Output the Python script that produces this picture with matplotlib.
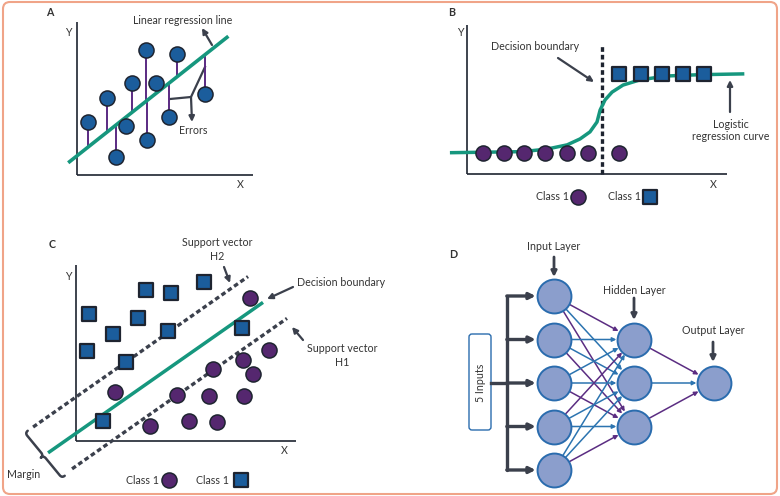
import numpy as np
import matplotlib
matplotlib.use('Agg')
import matplotlib.pyplot as plt
from matplotlib.patches import FancyBboxPatch, PathPatch
from matplotlib.path import Path

plt.rcParams['font.family'] = ['Lato', 'DejaVu Sans']

# --- A: linear regression (units along the axes) ---
a_x = [0.6, 1.7, 2.2, 2.8, 3.1, 3.9, 4.0, 4.5, 5.2, 5.7, 7.3]
a_y = [3.0, 4.4, 1.0, 2.8, 5.2, 7.1, 2.0, 5.2, 3.3, 6.9, 4.6]
a_slope = 0.79
a_icpt = 1.09
a_line_x = [-0.5, 8.6]

# --- B: logistic regression ---
b_circ_x = [0.62, 1.42, 2.19, 3.0, 3.85, 4.65, 5.85]
b_circ_y = 0.81
b_sq_x = [5.85, 6.69, 7.5, 8.31, 9.12]
b_sq_y = 3.85
b_bound = 5.19
b_curve_x = [-0.59, 2.15, 3.08, 3.85, 4.35, 4.73, 5.0, 5.12, 5.31, 5.58, 6.0, 6.65, 7.69, 8.96, 10.6]
b_curve_y = [0.82, 0.86, 0.96, 1.12, 1.35, 1.62, 2.0, 2.46, 2.85, 3.15, 3.42, 3.62, 3.77, 3.82, 3.85]

# --- C: support vector machine ---
c_sq_x = [0.59, 3.18, 4.32, 5.82, 2.82, 1.68, 4.18, 0.5, 2.27, 7.55, 1.23]
c_sq_y = [5.77, 6.86, 6.73, 7.23, 5.59, 4.86, 5.0, 4.09, 3.59, 5.14, 0.91]
c_circ_x = [7.91, 8.77, 7.59, 6.23, 8.05, 1.77, 4.59, 6.05, 7.64, 3.36, 5.14, 6.41]
c_circ_y = [6.5, 4.14, 3.68, 3.27, 3.05, 2.23, 2.09, 2.05, 2.05, 0.68, 0.91, 0.86]
c_slope = 0.7
c_icpt = {'H2': 2.0, 'boundary': 0.35, 'H1': -1.14}
c_span = {'H2': [-1.95, 7.82], 'boundary': [-1.27, 8.5], 'H1': [-0.18, 9.59]}

# --- D: neural network ---
layer_x = [0, 1, 2]
input_y = [4, 3, 2, 1, 0]
hidden_y = [3, 2, 1]
output_y = [2]
# edge colours: 'p' purple, 'b' blue, rows = input nodes, cols = hidden nodes
in_hid_col = [['p', 'b', 'p'],
              ['b', 'b', 'p'],
              ['b', 'b', 'p'],
              ['p', 'b', 'b'],
              ['b', 'b', 'p']]
hid_out_col = ['p', 'b', 'p']

W, H = 780, 496
green = '#16977e'
blue = '#1b5d9c'
purple = '#55276f'
dark = '#1e2430'
arrowc = '#3b404c'
txtc = '#333333'
node_fill = '#8b9ecc'
node_edge = '#2a6cae'
edge_c = {'p': '#5b2d82', 'b': '#2c74b0'}
fs = 7.7
circ_s = 118
sq_s = 88

fig = plt.figure(figsize=(W / 100, H / 100), dpi=100)
bg = fig.add_axes([0, 0, 1, 1])
bg.set_xlim(0, W)
bg.set_ylim(H, 0)
bg.axis('off')

bg.add_patch(FancyBboxPatch((3, 2), 774, 492, boxstyle='round,pad=0,rounding_size=7',
                            fc='white', ec='#f0a488', lw=1.5, zorder=0))


def panel(box, origin, sx, sy):
    left, top, right, bottom = box
    ax = fig.add_axes([left / W, 1 - bottom / H, (right - left) / W, (bottom - top) / H])
    ox, oy = origin
    ax.set_xlim((left - ox) / sx, (right - ox) / sx)
    ax.set_ylim((oy - bottom) / sy, (oy - top) / sy)
    ax.axis('off')
    ax.set_facecolor('none')
    return ax


def txt(x, y, s, **kw):
    kw.setdefault('ha', 'center')
    bg.text(x, y, s, va='center', color=txtc, fontsize=fs, zorder=10, **kw)


def arrow(x0, y0, x1, y1, lw=1.6, ms=8):
    bg.annotate('', xy=(x1, y1), xytext=(x0, y0),
                arrowprops=dict(arrowstyle='-|>', color=arrowc, lw=lw,
                                mutation_scale=ms, shrinkA=0, shrinkB=0), zorder=10)


def xy_axes(ax, xmax, ymax):
    ax.plot([0, xmax], [0, 0], color=dark, lw=1.2, solid_capstyle='butt')
    ax.plot([0, 0], [0, ymax], color=dark, lw=1.2, solid_capstyle='butt')


for lab, x, y in [('A', 50, 13), ('B', 452, 13), ('C', 52, 245), ('D', 453, 254)]:
    txt(x, y, lab, fontweight='bold')
for lab, x, y in [('Y', 68, 32), ('X', 240, 184), ('Y', 460, 32), ('X', 713, 184),
                  ('Y', 68, 277), ('X', 284, 451)]:
    txt(x, y, lab)

# ---------------- A ----------------
axA = panel((0, 0, 390, 248), (77, 175), 17.6, 17.6)
xy_axes(axA, 10, 8.7)
ax_arr = np.array(a_x)
axA.vlines(ax_arr, a_y, a_slope * ax_arr + a_icpt, color='#5a2a82', lw=1.4, zorder=2)
lx = np.array(a_line_x)
axA.plot(lx, a_slope * lx + a_icpt, color=green, lw=2.6, zorder=3, solid_capstyle='butt')
axA.scatter(a_x, a_y, s=circ_s, c=blue, edgecolors=dark, linewidths=1.1, zorder=4)
txt(183, 20, 'Linear regression line')
arrow(212, 45, 202, 28)
bg.plot([170, 191, 205], [99, 97, 67], color=arrowc, lw=1.6, zorder=10)
arrow(191, 97, 192, 122)
txt(193, 131, 'Errors')

# ---------------- B ----------------
axB = panel((390, 0, 780, 248), (467, 174), 26, 26)
xy_axes(axB, 10, 5.73)
axB.plot([b_bound, b_bound], [0, 4.96], color=dark, lw=2.4, dashes=(1.4, 0.9), zorder=2)
axB.plot(b_curve_x, b_curve_y, color=green, lw=2.5, zorder=3)
axB.scatter(b_circ_x, [b_circ_y] * len(b_circ_x), s=circ_s, c=purple, edgecolors=dark,
            linewidths=1.1, zorder=4)
axB.scatter(b_sq_x, [b_sq_y] * len(b_sq_x), marker='s', s=sq_s, c=blue, edgecolors=dark,
            linewidths=1.6, zorder=4)
txt(535, 46, 'Decision boundary')
arrow(558, 58, 594, 82)
txt(731, 125, 'Logistic')
txt(731, 137, 'regression curve')
arrow(730, 112, 730, 80)
txt(553, 197, 'Class 1')
bg.scatter([578], [197], s=circ_s, c=purple, edgecolors=dark, linewidths=1.1, zorder=10)
txt(625, 197, 'Class 1')
bg.scatter([650], [197], marker='s', s=sq_s, c=blue, edgecolors=dark, linewidths=1.6, zorder=10)

# ---------------- C ----------------
axC = panel((0, 248, 390, 496), (76, 441), 22, 22)
xy_axes(axC, 10, 8.0)
for key in ['H2', 'boundary', 'H1']:
    xs = np.array(c_span[key])
    ys = c_slope * xs + c_icpt[key]
    if key == 'boundary':
        axC.plot(xs, ys, color=green, lw=2.5, zorder=3, solid_capstyle='butt')
    else:
        axC.plot(xs, ys, color=arrowc, lw=2.4, dashes=(1.4, 0.9), zorder=2)
axC.scatter(c_circ_x, c_circ_y, s=circ_s, c=purple, edgecolors=dark, linewidths=1.1, zorder=4)
axC.scatter(c_sq_x, c_sq_y, marker='s', s=sq_s, c=blue, edgecolors=dark, linewidths=1.6, zorder=4)
txt(217, 243, 'Support vector')
txt(217, 256, 'H2')
arrow(224, 267, 230, 283)
txt(297, 282, 'Decision boundary', ha='left')
arrow(293, 287, 267, 299)
txt(342, 348, 'Support vector')
txt(342, 362, 'H1')
arrow(303, 340, 292, 327)

# margin brace, built in local coords (t along, s outward) then placed
p0 = np.array([25.0, 433.0])
p1 = np.array([62.0, 478.0])
L = np.linalg.norm(p1 - p0)
u = (p1 - p0) / L
n = np.array([-u[1], u[0]])
if n[0] > 0:
    n = -n
h, q = 3.5, 3.5
local = [(0, -h), (0, 0), (q, 0),
         (L / 2 - q, 0), (L / 2, 0), (L / 2, h),
         (L / 2, 0), (L / 2 + q, 0),
         (L - q, 0), (L, 0), (L, -h)]
verts = [tuple(p0 + t * u + s * n) for t, s in local]
codes = [Path.MOVETO, Path.CURVE3, Path.CURVE3,
         Path.LINETO, Path.CURVE3, Path.CURVE3,
         Path.CURVE3, Path.CURVE3,
         Path.LINETO, Path.CURVE3, Path.CURVE3]
bg.add_patch(PathPatch(Path(verts, codes), fc='none', ec=arrowc, lw=1.8,
                       capstyle='round', joinstyle='round', zorder=10))
txt(24, 475, 'Margin')
txt(142, 480, 'Class 1')
bg.scatter([169], [480], s=circ_s, c=purple, edgecolors=dark, linewidths=1.1, zorder=10)
txt(213, 480, 'Class 1')
bg.scatter([241], [480], marker='s', s=sq_s, c=blue, edgecolors=dark, linewidths=1.6, zorder=10)

# ---------------- D ----------------
axD = panel((390, 248, 780, 496), (554, 470), 80, 43.5)
r_pt = 12.2
node_kw = dict(s=(2 * r_pt) ** 2, c=node_fill, edgecolors=node_edge, linewidths=1.4, zorder=4)
axD.scatter([layer_x[0]] * len(input_y), input_y, **node_kw)
axD.scatter([layer_x[1]] * len(hidden_y), hidden_y, **node_kw)
axD.scatter([layer_x[2]] * len(output_y), output_y, **node_kw)


def link(ax, x0, y0, x1, y1, col):
    ax.annotate('', xy=(x1, y1), xytext=(x0, y0),
                arrowprops=dict(arrowstyle='-|>', color=col, lw=1.1, mutation_scale=6,
                                shrinkA=r_pt, shrinkB=r_pt + 0.5), zorder=3)


for i, yi in enumerate(input_y):
    for j, yj in enumerate(hidden_y):
        link(axD, layer_x[0], yi, layer_x[1], yj, edge_c[in_hid_col[i][j]])
for j, yj in enumerate(hidden_y):
    link(axD, layer_x[1], yj, layer_x[2], output_y[0], edge_c[hid_out_col[j]])

bus_x = -0.59
axD.plot([bus_x, bus_x], [min(input_y), max(input_y)], color=arrowc, lw=2.4,
         solid_capstyle='round', zorder=3)
axD.plot([-0.79, bus_x], [2, 2], color=arrowc, lw=2.4, zorder=3)
for yi in input_y:
    axD.annotate('', xy=(layer_x[0], yi), xytext=(bus_x, yi),
                 arrowprops=dict(arrowstyle='-|>', color=arrowc, lw=2.4, mutation_scale=9,
                                 shrinkA=0, shrinkB=r_pt + 1), zorder=3)

bg.add_patch(FancyBboxPatch((469, 334), 22, 96, boxstyle='round,pad=0,rounding_size=3',
                            fc='white', ec=node_edge, lw=1.0, zorder=9))
txt(480, 383, '5 Inputs', rotation=90)
txt(554, 247, 'Input Layer')
arrow(554, 257, 554, 277, lw=2.0, ms=8)
txt(634, 290, 'Hidden Layer')
arrow(634, 298, 634, 320, lw=2.0, ms=8)
txt(713, 331, 'Output Layer')
arrow(713, 342, 713, 362, lw=2.0, ms=8)

fig.savefig('out.png', dpi=100)
